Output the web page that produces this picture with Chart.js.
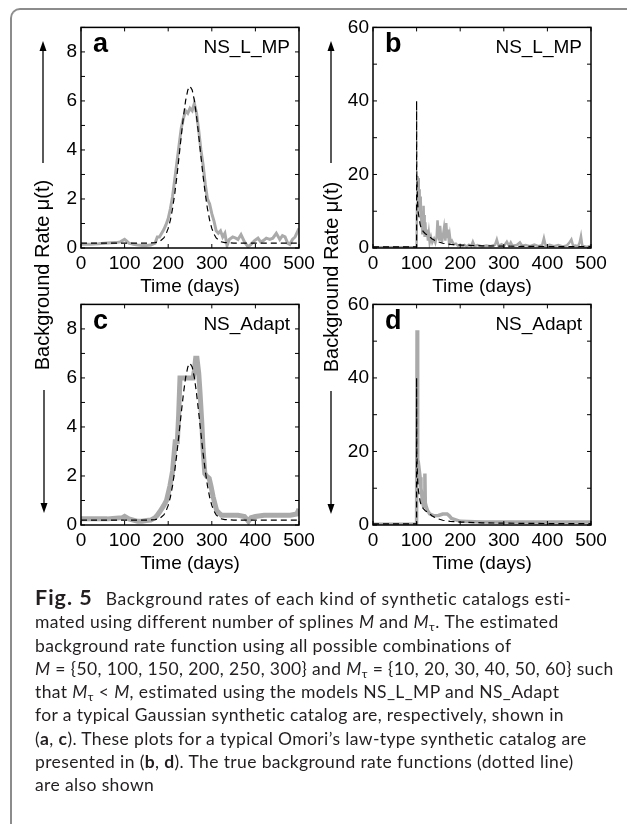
<!DOCTYPE html>
<html>
<head>
<meta charset="utf-8">
<script src="https://cdn.jsdelivr.net/npm/chart.js@4.4.1/dist/chart.umd.min.js"></script>
<style>
  html, body { margin: 0; padding: 0; background: #fff; }
  body { width: 627px; height: 824px; position: relative; overflow: hidden; font-family: "Liberation Sans", Arial, sans-serif; }
  .frame { position: absolute; left: 10px; top: 8px; width: 660px; height: 860px; border-top: 2px solid #8c8c8c; border-left: 2px solid #8c8c8c; border-top-left-radius: 10px; }
  .panel { position: absolute; }
  .ylab { position: absolute; font-size: 20px; color: #000; white-space: nowrap; transform: translate(-50%, -50%) rotate(-90deg); }
  .arrows { position: absolute; left: 0; top: 0; }
  .caption { position: absolute; left: 35px; top: 586px; font-family: Lato, "Open Sans", sans-serif; font-size: 17.5px; letter-spacing: 0.38px; line-height: 23.3px; color: #231f20; white-space: nowrap; font-variant-ligatures: none; }
  .caption sub { font-size: 0.7em; vertical-align: -0.25em; line-height: 0; }
  .caption .fig { font-size: 21.5px; font-weight: bold; letter-spacing: 1px; margin-right: 13px; }
  .caption .l1 { letter-spacing: 0.6px; }
</style>
</head>
<body>
<div class="frame"></div>

<canvas id="pa" class="panel" width="294" height="290" style="left:26px; top:12px"></canvas>
<canvas id="pb" class="panel" width="294" height="290" style="left:318px; top:12px"></canvas>
<canvas id="pc" class="panel" width="294" height="290" style="left:26px; top:289px"></canvas>
<canvas id="pd" class="panel" width="294" height="290" style="left:318px; top:289px"></canvas>

<svg class="arrows" width="627" height="824">
  <g stroke="#000" stroke-width="1.3">
    <line x1="43" y1="163" x2="43" y2="48"/>
    <line x1="44" y1="390" x2="44" y2="505"/>
    <line x1="331" y1="163" x2="331" y2="48"/>
    <line x1="331" y1="391" x2="331" y2="506"/>
  </g>
  <g fill="#000">
    <polygon points="43,41 39.5,51 46.5,51"/>
    <polygon points="44,513 40.5,503 47.5,503"/>
    <polygon points="331,41 327.5,51 334.5,51"/>
    <polygon points="331,514 327.5,504 334.5,504"/>
  </g>
</svg>
<div class="ylab" style="left:42px; top:275px">Background Rate μ(t)</div>
<div class="ylab" style="left:331px; top:277px">Background Rate μ(t)</div>

<div class="caption">
<span class="fig">Fig. 5</span><span class="l1">Background rates of each kind of synthetic catalogs esti-</span><br>
mated using different number of splines <i>M</i> and <i>M</i><sub>τ</sub>. The estimated<br>
background rate function using all possible combinations of<br>
<i>M</i> = {50, 100, 150, 200, 250, 300} and <i>M</i><sub>τ</sub> = {10, 20, 30, 40, 50, 60} such<br>
that <i>M</i><sub>τ</sub> &lt; <i>M</i>, estimated using the models NS_L_MP and NS_Adapt<br>
for a typical Gaussian synthetic catalog are, respectively, shown in<br>
(<b>a</b>, <b>c</b>). These plots for a typical Omori’s law-type synthetic catalog are<br>
presented in (<b>b</b>, <b>d</b>). The true background rate functions (dotted line)<br>
are also shown
</div>

<script>
  // true rate functions (dashed)
  const gaussDays = [0, 50, 100, 150, 170, 180, 190, 195, 200, 205, 210, 215, 220, 225, 230, 235, 240, 245, 250, 255, 260, 265, 270, 275, 280, 285, 290, 295, 300, 305, 310, 320, 330, 350, 400, 450, 500];
  const gaussRate = [0.2, 0.2, 0.2, 0.2, 0.22, 0.26, 0.41, 0.57, 0.8, 1.14, 1.61, 2.21, 2.93, 3.75, 4.58, 5.37, 6.02, 6.45, 6.6, 6.45, 6.02, 5.37, 4.58, 3.75, 2.93, 2.21, 1.61, 1.14, 0.8, 0.57, 0.41, 0.26, 0.22, 0.2, 0.2, 0.2, 0.2];

  const omoriDays = [0, 100, 100, 100.5, 102, 104, 106, 108, 111, 115, 120, 127, 135, 146, 160, 177, 200, 250, 300, 400, 500];
  const omoriRate = [0.3, 0.3, 40, 20, 13, 9.5, 8, 6.5, 5.2, 4.5, 3.9, 3.4, 2.5, 1.8, 1.3, 1.0, 0.8, 0.6, 0.5, 0.4, 0.35];

  // estimated rates (grey)
  const aDays = [0, 20, 40, 60, 80, 90, 100, 105, 110, 120, 130, 140, 150, 160, 170, 175, 180, 185, 190, 195, 200, 205, 210, 215, 220, 225, 230, 235, 240, 245, 250, 255, 260, 265, 270, 275, 280, 285, 290, 295, 300, 305, 310, 315, 320, 325, 330, 335, 340, 348, 355, 360, 367, 375, 383, 390, 398, 406, 412, 418, 425, 433, 440, 448, 456, 462, 468, 474, 479, 485, 491, 500];
  const aRate = [0.15, 0.15, 0.17, 0.2, 0.22, 0.25, 0.35, 0.28, 0.2, 0.15, 0.12, 0.1, 0.1, 0.12, 0.2, 0.45, 0.45, 0.6, 0.75, 0.95, 1.2, 1.6, 2.1, 2.8, 3.5, 4.2, 4.9, 5.3, 5.6, 5.5, 5.7, 5.6, 5.9, 5.5, 4.8, 4.0, 3.4, 2.6, 2.0, 1.8, 1.4, 1.1, 0.7, 0.6, 0.7, 0.45, 0.6, 0.1, 0.35, 0.45, 0.4, 0.35, 0.55, 0.25, 0.05, 0.15, 0.3, 0.4, 0.25, 0.3, 0.4, 0.35, 0.4, 0.6, 0.35, 0.5, 0.45, 0.2, 0.15, 0.35, 0.45, 0.8];

  const bDays = [0, 50, 98, 100, 101, 102, 103, 104, 105, 106, 107, 108, 109, 110, 111, 112, 113, 114, 115, 116, 117, 118, 119, 120, 122, 124, 126, 128, 130, 133, 136, 140, 143, 146, 148, 150, 152, 154, 156, 158, 160, 163, 166, 168, 170, 172, 174, 176, 178, 181, 185, 190, 195, 200, 205, 210, 215, 220, 225, 229, 233, 240, 250, 260, 270, 280, 284, 288, 295, 300, 307, 312, 316, 320, 330, 337, 342, 350, 360, 370, 380, 388, 392, 396, 405, 415, 425, 435, 445, 450, 455, 459, 465, 470, 474, 477, 480, 490, 500];
  const bRate = [0.2, 0.2, 0.2, 0.5, 12, 19.5, 17, 19, 12, 16, 10, 14, 8, 13, 6, 10, 4, 8, 5, 11.5, 6, 9, 3, 7, 3, 5, 2, 4, 1.5, 3, 1.5, 2.5, 1.5, 3, 7.5, 4, 2, 6, 3, 1.5, 3, 5.5, 2, 6.8, 3, 5, 2, 3.5, 1.5, 2, 1, 1.2, 0.6, 0.9, 0.5, 0.8, 0.4, 0.9, 0.5, 1.7, 0.5, 0.8, 0.4, 0.7, 0.5, 0.9, 2.3, 0.6, 1.0, 0.5, 1.7, 0.6, 1.5, 0.6, 0.8, 1.5, 0.6, 0.8, 0.5, 0.9, 0.5, 0.8, 2.7, 0.6, 0.9, 0.5, 0.8, 0.4, 0.7, 1.4, 2.3, 0.6, 0.7, 0.4, 1.5, 3.2, 0.6, 0.3, 0.6];

  const cDays = [0, 20, 40, 60, 80, 95, 100, 105, 110, 120, 130, 140, 150, 160, 170, 175, 181, 190, 196, 204, 210, 214, 216, 221, 224, 227, 230, 240, 250, 257, 260, 263, 266, 270, 273, 277, 280, 284, 288, 294, 298, 303, 311, 316, 322, 340, 360, 375, 384, 390, 400, 420, 440, 460, 480, 495, 500];
  const cRate = [0.25, 0.25, 0.25, 0.25, 0.28, 0.3, 0.35, 0.3, 0.25, 0.2, 0.15, 0.15, 0.18, 0.2, 0.3, 0.4, 0.55, 0.8, 1.0, 1.6, 2.2, 3.0, 3.4, 3.4, 4.5, 6.0, 6.0, 6.0, 6.0, 6.0, 6.3, 6.8, 6.8, 6.2, 5.4, 4.2, 3.1, 2.1, 2.0, 1.9, 1.6, 1.15, 0.6, 0.5, 0.4, 0.4, 0.4, 0.35, 0.15, 0.3, 0.35, 0.4, 0.4, 0.4, 0.4, 0.45, 0.65];

  const dDays = [0, 50, 99, 100, 101, 102, 103, 104, 106, 108, 110, 112, 114, 116, 118, 119, 120, 122, 125, 130, 140, 150, 160, 170, 175, 180, 190, 200, 250, 300, 400, 500];
  const dRate = [0.2, 0.2, 0.2, 1, 53, 30, 17, 14, 15, 13, 10, 8, 6, 5, 5, 14, 6, 5, 4, 3, 2.5, 2.6, 3, 3, 2.5, 1.8, 1.4, 1.0, 0.8, 0.8, 0.8, 0.8];

  const xTicks = [0, 100, 200, 300, 400, 500];

  const FONT = '"Liberation Sans", Arial, sans-serif';
  Chart.defaults.font.family = FONT;
  Chart.defaults.font.size = 19;
  Chart.defaults.color = '#000';

  const toPoints = (xs, ys) => xs.map((x, i) => ({ x: x, y: ys[i] }));

  // box around plot, inward ticks on all sides, panel letter and model name
  const matlabBox = {
    id: 'matlabBox',
    afterDatasetsDraw(chart, args, opts) {
      const { ctx, chartArea: a, scales } = chart;
      ctx.save();
      ctx.strokeStyle = '#000';
      ctx.lineWidth = 1.5;
      ctx.strokeRect(a.left, a.top, a.right - a.left, a.bottom - a.top);
      ctx.beginPath();
      scales.x.ticks.forEach(t => {
        const px = scales.x.getPixelForValue(t.value);
        ctx.moveTo(px, a.bottom); ctx.lineTo(px, a.bottom - 4);
        ctx.moveTo(px, a.top); ctx.lineTo(px, a.top + 4);
      });
      scales.y.ticks.forEach(t => {
        const py = scales.y.getPixelForValue(t.value);
        ctx.moveTo(a.left, py); ctx.lineTo(a.left + 4, py);
        ctx.moveTo(a.right, py); ctx.lineTo(a.right - 4, py);
      });
      ctx.lineWidth = 1;
      ctx.stroke();
      ctx.fillStyle = '#000';
      ctx.font = 'bold 27px ' + FONT;
      ctx.textAlign = 'left';
      ctx.textBaseline = 'alphabetic';
      ctx.fillText(opts.letter, a.left + 12, a.top + 25);
      ctx.font = '19px ' + FONT;
      ctx.textAlign = 'right';
      ctx.fillText(opts.model, a.right - 9, a.top + 26);
      ctx.restore();
    }
  };

  function makePanel(id, letter, model, estX, estY, trueX, trueY, yMax, yStep, yLabelEvery, greyWidth) {
    new Chart(document.getElementById(id), {
      type: 'line',
      data: {
        datasets: [
          {
            data: toPoints(trueX, trueY),
            borderColor: '#000',
            borderWidth: 1.2,
            borderDash: [6, 4],
            pointRadius: 0,
            tension: 0
          },
          {
            data: toPoints(estX, estY),
            borderColor: '#aaaaaa',
            borderWidth: greyWidth,
            pointRadius: 0,
            tension: 0
          }
        ]
      },
      options: {
        responsive: false,
        animation: false,
        devicePixelRatio: 1,
        events: [],
        layout: { padding: { left: 10, top: 15, right: 21, bottom: 4 } },
        plugins: {
          legend: { display: false },
          tooltip: { enabled: false },
          matlabBox: { letter: letter, model: model }
        },
        scales: {
          x: {
            type: 'linear',
            min: 0,
            max: 500,
            afterBuildTicks: s => { s.ticks = xTicks.map(v => ({ value: v })); },
            ticks: { padding: 4, maxRotation: 0, autoSkip: false },
            grid: { display: false, drawTicks: false },
            border: { display: false },
            title: { display: true, text: 'Time (days)', padding: { top: 0, bottom: 0 } },
            afterFit: s => { s.height = 50; }
          },
          y: {
            min: 0,
            max: yMax,
            ticks: {
              stepSize: yStep,
              padding: 4,
              autoSkip: false,
              callback: v => (v % yLabelEvery === 0 ? v : '')
            },
            grid: { display: false, drawTicks: false },
            border: { display: false },
            afterFit: s => { s.width = 45; }
          }
        }
      },
      plugins: [matlabBox]
    });
  }

  makePanel('pa', 'a', 'NS_L_MP', aDays, aRate, gaussDays, gaussRate, 9, 1, 2, 3);
  makePanel('pb', 'b', 'NS_L_MP', bDays, bRate, omoriDays, omoriRate, 60, 10, 20, 2.5);
  makePanel('pc', 'c', 'NS_Adapt', cDays, cRate, gaussDays, gaussRate, 9, 1, 2, 5);
  makePanel('pd', 'd', 'NS_Adapt', dDays, dRate, omoriDays, omoriRate, 60, 10, 20, 3.5);
</script>
</body>
</html>
